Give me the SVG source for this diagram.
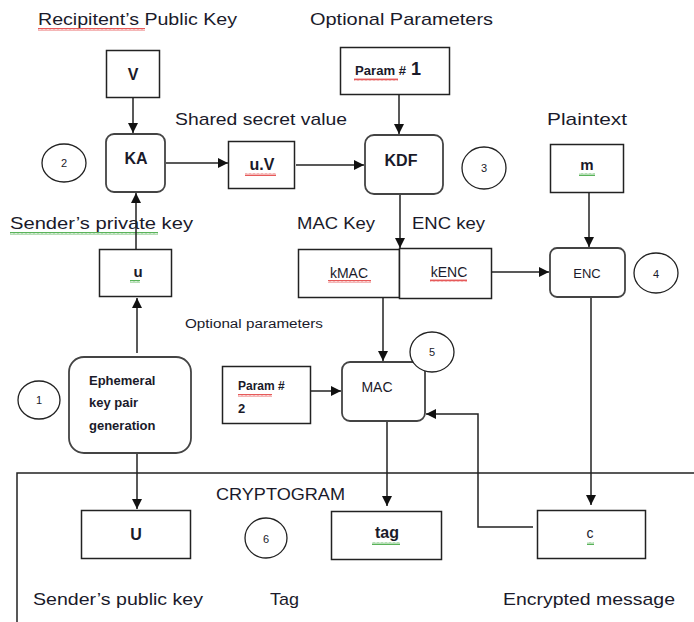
<svg xmlns="http://www.w3.org/2000/svg" width="694" height="622" viewBox="0 0 694 622">
<style>
text{font-family:"Liberation Sans","DejaVu Sans",sans-serif;fill:#1a1a2a}
.lbl{font-size:17px}
.b{font-weight:bold}
.box{fill:#fff;stroke:#222;stroke-width:1.5}
.rbox{fill:#fff;stroke:#444;stroke-width:1.8}
.circ{fill:#fff;stroke:#222;stroke-width:1.3}
.num{font-size:11px;text-anchor:middle}
.c{text-anchor:middle}
.ln{fill:none;stroke:#222;stroke-width:1.5}
.arr{fill:none;stroke:#222;stroke-width:1.5;marker-end:url(#ah)}
.sqr{fill:url(#red)}
.sqg{fill:url(#green)}
</style>
<defs>
<marker id="ah" viewBox="0 0 10 10" refX="10" refY="5" markerWidth="10" markerHeight="10" markerUnits="userSpaceOnUse" orient="auto">
<path d="M0,0 L10,5 L0,10 z" fill="#111"/>
</marker>
<pattern id="red" width="4" height="3" patternUnits="userSpaceOnUse">
<path d="M0,2.5 L1,0.5 L2,2.5 L3,0.5 L4,2.5" fill="none" stroke="#e03030" stroke-width="0.8"/>
</pattern>
<pattern id="green" width="4" height="3" patternUnits="userSpaceOnUse">
<path d="M0,2.5 L1,0.5 L2,2.5 L3,0.5 L4,2.5" fill="none" stroke="#30a030" stroke-width="0.8"/>
</pattern>
</defs>

<rect width="694" height="622" fill="#fff"/>

<!-- free labels -->
<g id="labels">
<text class="lbl" x="38" y="25" textLength="199" lengthAdjust="spacingAndGlyphs">Recipitent’s Public Key</text>
<text class="lbl" x="310" y="25" textLength="183" lengthAdjust="spacingAndGlyphs">Optional Parameters</text>
<text class="lbl" x="175" y="125" textLength="172" lengthAdjust="spacingAndGlyphs">Shared secret value</text>
<text class="lbl" x="547" y="125" textLength="80" lengthAdjust="spacingAndGlyphs">Plaintext</text>
<text class="lbl" x="10" y="229" textLength="183" lengthAdjust="spacingAndGlyphs">Sender’s  private key</text>
<text class="lbl" x="297" y="229" textLength="78" lengthAdjust="spacingAndGlyphs">MAC Key</text>
<text class="lbl" x="412" y="229" textLength="73" lengthAdjust="spacingAndGlyphs">ENC key</text>
<text x="185" y="328" font-size="12" textLength="138" lengthAdjust="spacingAndGlyphs">Optional parameters</text>
<text class="lbl" x="216" y="500" textLength="129" lengthAdjust="spacingAndGlyphs">CRYPTOGRAM</text>
<text class="lbl" x="33" y="605" textLength="170" lengthAdjust="spacingAndGlyphs">Sender’s public key</text>
<text class="lbl" x="270" y="605" textLength="29" lengthAdjust="spacingAndGlyphs">Tag</text>
<text class="lbl" x="503" y="605" textLength="172" lengthAdjust="spacingAndGlyphs">Encrypted message</text>
<rect class="sqr" x="38" y="28" width="107" height="3"/>
<rect class="sqg" x="10" y="232" width="148" height="3"/>
</g>

<!-- cryptogram frame -->
<g id="cryptogram-frame">
<path class="ln" d="M17,622 L17,473 L694,473"/>
</g>

<!-- connectors -->
<g id="connectors">
<path class="arr" d="M133,98 L133,133"/>
<path class="arr" d="M166,163 L228,163"/>
<path class="arr" d="M296,165 L364,165"/>
<path class="arr" d="M399,95 L399,134"/>
<path class="arr" d="M400,194 L400,248"/>
<path class="arr" d="M589,192 L589,247"/>
<path class="arr" d="M136,249 L136,193"/>
<path class="arr" d="M137,353 L137,298"/>
<path class="arr" d="M482,272 L549,272"/>
<path class="arr" d="M383,297 L383,361"/>
<path class="arr" d="M309,391 L341,391"/>
<path class="arr" d="M533,527 L478,527 L478,414 L426,414"/>
<path class="arr" d="M387,421 L387,506"/>
<path class="arr" d="M591,297 L591,505"/>
<path class="arr" d="M137,453 L137,509"/>
</g>

<g id="node-V">
<rect class="box" x="106.5" y="50.5" width="53" height="47"/>
<text class="c b" x="133" y="80" font-size="16">V</text>
</g>
<g id="node-KA">
<rect class="rbox" x="106" y="134" width="59" height="58" rx="8"/>
<text class="c b" x="136" y="164" font-size="16">KA</text>
</g>
<g id="circle-2">
<ellipse class="circ" cx="64" cy="163" rx="22" ry="19"/>
<text class="num" x="64" y="167">2</text>
</g>
<g id="node-uV">
<rect class="box" x="228.5" y="141.5" width="66" height="47"/>
<text class="c b" x="262" y="170" font-size="16">u.V</text>
<rect class="sqr" x="245" y="173" width="31" height="3"/>
</g>
<g id="node-param1">
<rect class="box" x="340.5" y="47.5" width="109" height="47"/>
<text x="355" y="75" font-size="12" font-weight="bold" textLength="51" lengthAdjust="spacingAndGlyphs">Param #</text>
<text x="411" y="75" font-size="18" font-weight="bold">1</text>
<rect class="sqr" x="354" y="78" width="44" height="3"/>
</g>
<g id="node-KDF">
<rect class="rbox" x="365" y="135" width="78" height="59" rx="9"/>
<text class="c" x="401" y="166" font-size="16" font-weight="bold">KDF</text>
</g>
<g id="circle-3">
<ellipse class="circ" cx="484" cy="168" rx="22" ry="21"/>
<text class="num" x="484" y="172">3</text>
</g>
<g id="node-m">
<rect class="box" x="550.5" y="144.5" width="73" height="48"/>
<text class="c b" x="587" y="170" font-size="15">m</text>
<rect class="sqg" x="579" y="173" width="16" height="3"/>
</g>
<g id="node-u">
<rect class="box" x="99.5" y="249.5" width="72" height="47"/>
<text class="c b" x="138" y="277" font-size="15">u</text>
<rect class="sqg" x="130" y="280" width="10" height="3"/>
</g>
<g id="node-kMAC">
<rect class="box" x="298.5" y="249.5" width="101" height="48"/>
<text class="c" x="349" y="278" font-size="14">kMAC</text>
<rect class="sqr" x="328" y="280" width="43" height="3"/>
</g>
<g id="node-kENC">
<rect class="box" x="399.5" y="248.5" width="92" height="50"/>
<text class="c" x="449" y="277" font-size="14">kENC</text>
<rect class="sqr" x="430" y="279" width="37" height="3"/>
</g>
<g id="node-ENC">
<rect class="rbox" x="550" y="248" width="75" height="49" rx="7"/>
<text class="c" x="587" y="278" font-size="13">ENC</text>
</g>
<g id="circle-4">
<ellipse class="circ" cx="656" cy="273" rx="22" ry="20"/>
<text class="num" x="656" y="278">4</text>
</g>
<g id="node-ephemeral">
<rect class="rbox" x="69" y="357" width="122" height="96" rx="15"/>
<text x="89" y="385" font-size="13" font-weight="bold">Ephemeral</text>
<text x="89" y="407" font-size="13" font-weight="bold">key pair</text>
<text x="89" y="430" font-size="13" font-weight="bold">generation</text>
</g>
<g id="circle-1">
<ellipse class="circ" cx="39" cy="400" rx="21" ry="19"/>
<text class="num" x="39" y="404">1</text>
</g>
<g id="node-param2">
<rect class="box" x="222.5" y="366.5" width="88" height="57"/>
<text x="238" y="390" font-size="12" font-weight="bold">Param #</text>
<text x="238" y="413" font-size="13" font-weight="bold">2</text>
<rect class="sqr" x="238" y="394" width="34" height="3"/>
</g>
<g id="node-MAC">
<rect class="rbox" x="342" y="362" width="83" height="59" rx="8"/>
<text class="c" x="377" y="392" font-size="14">MAC</text>
</g>
<g id="circle-5">
<ellipse class="circ" cx="432" cy="352" rx="22" ry="20"/>
<text class="num" x="432" y="356">5</text>
</g>
<g id="node-U">
<rect class="box" x="81.5" y="510.5" width="109" height="48"/>
<text class="c b" x="136" y="540" font-size="16">U</text>
</g>
<g id="circle-6">
<ellipse class="circ" cx="266" cy="538" rx="21" ry="20"/>
<text class="num" x="266" y="543">6</text>
</g>
<g id="node-tag">
<rect class="box" x="331.5" y="511.5" width="110" height="48"/>
<text class="c b" x="387" y="538" font-size="16">tag</text>
<rect class="sqg" x="372" y="542" width="28" height="3"/>
</g>
<g id="node-c">
<rect class="box" x="537.5" y="510.5" width="108" height="48"/>
<text class="c" x="590" y="538" font-size="14">c</text>
<rect class="sqg" x="587" y="542" width="7" height="3"/>
</g>
</svg>
